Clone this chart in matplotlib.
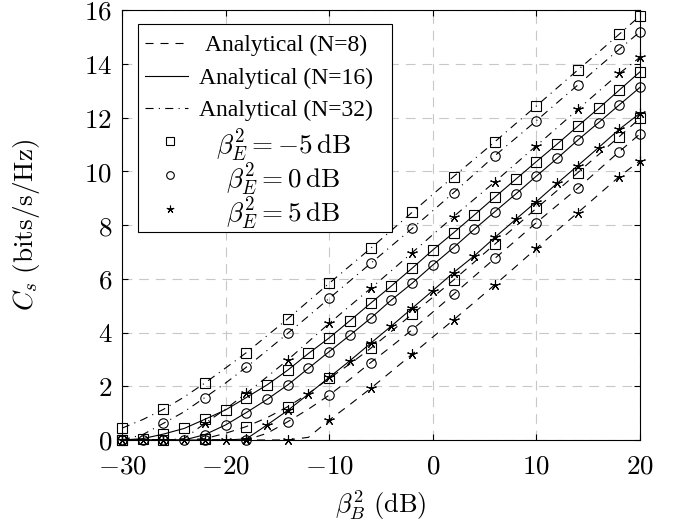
import matplotlib
matplotlib.use("Agg")
import matplotlib.pyplot as plt
from matplotlib.lines import Line2D
from matplotlib.patches import Rectangle
from matplotlib.ticker import FuncFormatter

# --- data (C_s in bits/s/Hz) ---
beta_b_db = [-30, -28, -26, -24, -22, -20, -18, -16, -14, -12, -10, -8, -6,
             -4, -2, 0, 2, 4, 6, 8, 10, 12, 14, 16, 18, 20]

cs_n8_m5 = [0.00, 0.00, 0.00, 0.00, 0.05, 0.25, 0.50, 0.83, 1.24, 1.73, 2.29, 2.83, 3.41,
            4.04, 4.68, 5.31, 5.95, 6.62, 7.29, 7.95, 8.62, 9.28, 9.95, 10.62, 11.29, 11.97]
cs_n8_0 = [0.00, 0.00, 0.00, 0.00, 0.00, 0.00, 0.00, 0.25, 0.68, 1.15, 1.67, 2.26, 2.88,
           3.48, 4.10, 4.76, 5.42, 6.09, 6.76, 7.42, 8.09, 8.73, 9.37, 10.05, 10.73, 11.39]
cs_n8_p5 = [0.00, 0.00, 0.00, 0.00, 0.00, 0.00, 0.00, 0.00, 0.00, 0.10, 0.74, 1.32, 1.92,
            2.55, 3.19, 3.83, 4.47, 5.12, 5.78, 6.45, 7.13, 7.80, 8.46, 9.13, 9.80, 10.39]

cs_n16_m5 = [0.00, 0.05, 0.22, 0.43, 0.77, 1.12, 1.58, 2.05, 2.60, 3.22, 3.80, 4.44, 5.09,
             5.73, 6.39, 7.07, 7.71, 8.37, 9.04, 9.70, 10.36, 11.01, 11.68, 12.34, 13.02, 13.70]
cs_n16_0 = [0.00, 0.00, 0.00, 0.00, 0.20, 0.56, 1.02, 1.51, 2.05, 2.67, 3.29, 3.90, 4.53,
            5.21, 5.83, 6.51, 7.16, 7.84, 8.50, 9.15, 9.82, 10.48, 11.16, 11.81, 12.47, 13.12]
cs_n16_p5 = [0.00, 0.00, 0.00, 0.00, 0.00, 0.00, 0.04, 0.56, 1.10, 1.71, 2.33, 2.95, 3.60,
             4.24, 4.90, 5.56, 6.23, 6.85, 7.54, 8.21, 8.87, 9.55, 10.21, 10.88, 11.56, 12.16]

cs_n32_m5 = [0.44, 0.76, 1.14, 1.60, 2.12, 2.68, 3.25, 3.88, 4.51, 5.17, 5.83, 6.48, 7.13,
             7.80, 8.47, 9.14, 9.80, 10.45, 11.10, 11.77, 12.43, 13.10, 13.77, 14.43, 15.10, 15.78]
cs_n32_0 = [0.00, 0.20, 0.62, 1.05, 1.58, 2.12, 2.71, 3.33, 3.97, 4.61, 5.27, 5.92, 6.57,
            7.22, 7.87, 8.53, 9.20, 9.89, 10.58, 11.23, 11.88, 12.55, 13.21, 13.88, 14.54, 15.19]
cs_n32_p5 = [0.00, 0.00, 0.00, 0.05, 0.62, 1.15, 1.74, 2.35, 2.98, 3.66, 4.34, 4.99, 5.64,
             6.30, 6.97, 7.64, 8.31, 8.96, 9.61, 10.28, 10.95, 11.62, 12.30, 12.97, 13.64, 14.24]

# simulation markers: every 2 dB for N=16, every 4 dB (+ 20 dB) for N=8 and N=32
marker_x_sparse = [-30, -26, -22, -18, -14, -10, -6, -2, 2, 6, 10, 14, 18, 20]

legend_lines = ["Analytical (N=8)", "Analytical (N=16)", "Analytical (N=32)"]
legend_marks = [r"$\beta_E^2 = -5\,\mathrm{dB}$", r"$\beta_E^2 = 0\,\mathrm{dB}$",
                r"$\beta_E^2 = 5\,\mathrm{dB}$"]

# --- style ---
plt.rcParams["mathtext.fontset"] = "cm"
plt.rcParams["lines.scale_dashes"] = False
W, H = 677, 525
FS_MATH = 19.5   # computer modern bits (ticks, axis labels, beta entries)
FS_TEXT = 17     # times-like legend text

DASHED = (0, (5.8, 5.0))
SOLID = "-"
DASHDOT = (0, (5.8, 3.8, 0.8, 3.8))
STAR = (5, 2, 0)

curves = [
    (cs_n8_m5, DASHED, "s", False), (cs_n8_0, DASHED, "o", False), (cs_n8_p5, DASHED, STAR, False),
    (cs_n16_m5, SOLID, "s", True), (cs_n16_0, SOLID, "o", True), (cs_n16_p5, SOLID, STAR, True),
    (cs_n32_m5, DASHDOT, "s", False), (cs_n32_0, DASHDOT, "o", False), (cs_n32_p5, DASHDOT, STAR, False),
]
msize = {"s": 7.2, "o": 6.8, STAR: 7.5}

fig = plt.figure(figsize=(W / 100, H / 100), dpi=100)
ax = fig.add_axes([122 / W, 85 / H, 518 / W, 430 / H])

for vals, ls, mk, dense in curves:
    ax.plot(beta_b_db, vals, color="k", lw=0.8, ls=ls, clip_on=False, zorder=3)
    if dense:
        mx, my = beta_b_db, vals
    else:
        mx = marker_x_sparse
        my = [vals[beta_b_db.index(x)] for x in mx]
    ax.plot(mx, my, ls="none", marker=mk, ms=msize[mk], mfc="none", mec="k",
            mew=0.8, clip_on=False, zorder=4)

ax.set_xlim(-30, 20)
ax.set_ylim(0, 16)
ax.set_xticks(range(-30, 21, 10))
ax.set_yticks(range(0, 17, 2))
fmt = FuncFormatter(lambda v, p: f"${v:g}$")
ax.xaxis.set_major_formatter(fmt)
ax.yaxis.set_major_formatter(fmt)
ax.tick_params(direction="in", length=4, width=0.8, labelsize=FS_MATH,
               top=True, right=True)
ax.tick_params(axis="y", pad=7)
ax.tick_params(axis="x", pad=10)
for s in ax.spines.values():
    s.set_linewidth(0.8)
ax.grid(True, color="#c8c8c8", lw=0.8, ls=(0, (7, 5)))
ax.set_axisbelow(True)

ax.set_xlabel(r"$\beta_B^2\ (\mathrm{dB})$", fontsize=19, labelpad=6)
ax.set_ylabel(r"$C_s\ (\mathrm{bits/s/Hz})$", fontsize=FS_MATH, labelpad=30)


# --- legend, drawn by hand so the entries can be centred like pgfplots ---
def fx(px):
    return px / W


def fy(py):
    return 1 - py / H


box = Rectangle((fx(138), fy(232)), fx(392) - fx(138), fy(24) - fy(232),
                transform=fig.transFigure, facecolor="white", edgecolor="k", lw=0.8)
fig.add_artist(box)

row_y = [43, 76, 108, 141, 175, 209]
for i, (label, ls) in enumerate(zip(legend_lines, [DASHED, SOLID, DASHDOT])):
    y = fy(row_y[i])
    fig.add_artist(Line2D([fx(145), fx(188)], [y, y], color="k", lw=0.8, ls=ls,
                          transform=fig.transFigure))
    fig.text(fx(286), y, label, fontsize=FS_TEXT, family="Liberation Serif",
             ha="center", va="center_baseline")
for i, (label, mk) in enumerate(zip(legend_marks, ["s", "o", STAR])):
    y = fy(row_y[3 + i])
    fig.add_artist(Line2D([fx(170)], [y], ls="none", marker=mk, ms=5.5, mfc="none",
                          mec="k", mew=0.8, transform=fig.transFigure))
    fig.text(fx(283), y, label, fontsize=FS_MATH, ha="center", va="center_baseline")

fig.savefig("out.png", dpi=100)
